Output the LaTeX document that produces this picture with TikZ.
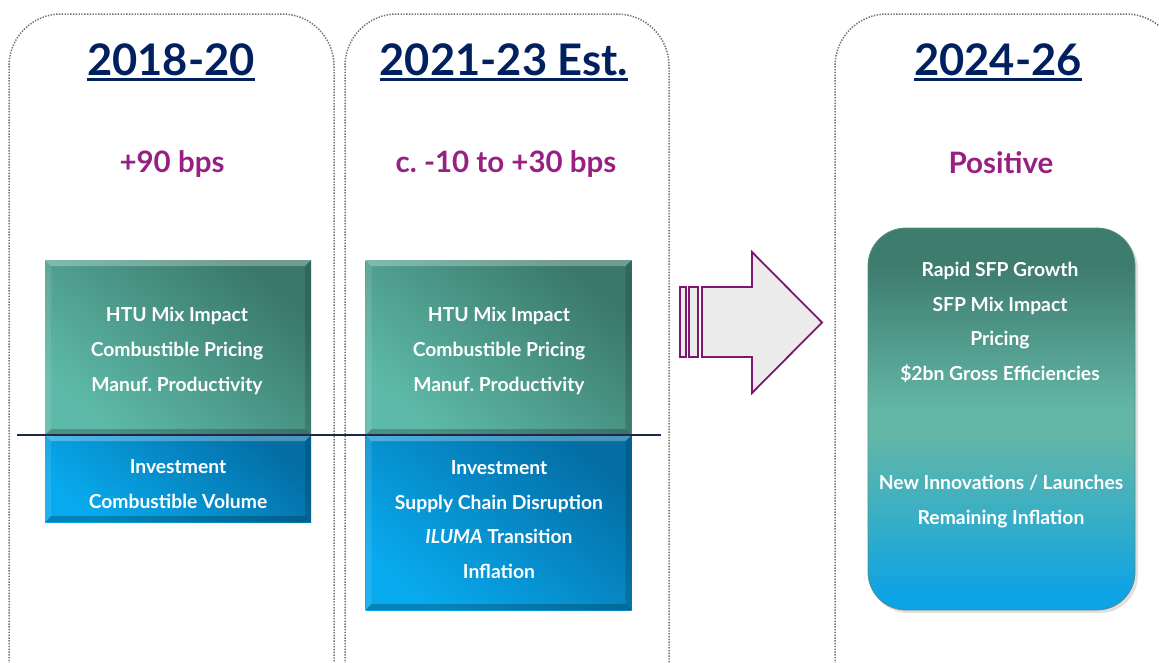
\documentclass[tikz,border=0pt]{standalone}
\usepackage{fontspec}
\setmainfont{Lato}
\usetikzlibrary{calc}
\frenchspacing

\definecolor{navy}{RGB}{0,32,96}
\definecolor{plum}{RGB}{152,32,130}
\definecolor{plumline}{RGB}{128,22,112}
\definecolor{arrowgray}{RGB}{235,235,235}
\definecolor{panelgray}{RGB}{115,115,115}
\definecolor{tealdark}{RGB}{58,120,106}
\definecolor{teallight}{RGB}{94,186,168}
\definecolor{tealtop}{RGB}{62,124,110}
\definecolor{tealmid}{RGB}{99,183,167}
\definecolor{aqua}{RGB}{56,174,198}
\definecolor{bluedark}{RGB}{4,110,165}
\definecolor{bluelight}{RGB}{8,170,238}
\definecolor{skyblue}{RGB}{14,162,230}
\definecolor{rule}{RGB}{30,40,75}

% vertical colour run of the outlook box (box spans 25bp..75bp)
\pgfdeclareverticalshading{outlook}{100bp}{%
  color(0bp)=(skyblue); color(27bp)=(skyblue); color(37bp)=(aqua);
  color(48bp)=(tealmid); color(51bp)=(tealmid); color(70bp)=(tealtop);
  color(100bp)=(tealtop)}

% edge highlights and shadows that give a box a raised look
\newcommand\bevel[2]{%
  \fill[white,opacity=.28] (#1.north west) -- (#1.north east) -- ($(#1.north east)+(-#2,#2)$) -- ($(#1.north west)+(#2,#2)$) -- cycle;
  \fill[white,opacity=.10] (#1.north west) -- ($(#1.north west)+(#2,#2)$) -- ($(#1.south west)+(#2,-#2)$) -- (#1.south west) -- cycle;
  \fill[black,opacity=.14] (#1.north east) -- ($(#1.north east)+(-#2,#2)$) -- ($(#1.south east)+(-#2,-#2)$) -- (#1.south east) -- cycle;
  \fill[black,opacity=.22] (#1.south west) -- ($(#1.south west)+(#2,-#2)$) -- ($(#1.south east)+(-#2,-#2)$) -- (#1.south east) -- cycle;
}

\tikzset{
  panel/.style={draw=panelgray, line width=1.5pt, dash pattern=on 1.4pt off 1.4pt, rounded corners=52pt},
  boxbase/.style={rectangle, inner sep=0pt, outer sep=0pt, minimum width=266pt},
  greenbox/.style={boxbase, top color=tealdark, bottom color=teallight, shading angle=-40},
  bluebox/.style={boxbase, top color=bluedark, bottom color=bluelight, shading angle=-40},
  headline/.style={text=navy, font=\bfseries\fontsize{43.5}{50}\selectfont, anchor=base, inner sep=0pt},
  subline/.style={text=plum, font=\bfseries\fontsize{29.5}{32}\selectfont, anchor=base, inner sep=0pt},
  body/.style={text=white, align=center, font=\bfseries\fontsize{19.3}{34.6}\selectfont, inner sep=0pt},
  arrowline/.style={draw=plumline, line width=1.8pt, fill=arrowgray, line join=miter},
}

\begin{document}
\begin{tikzpicture}[x=1pt, y=-1pt]
\useasboundingbox (0,0) rectangle (1159,662);
\clip (0,0) rectangle (1159,662);

% dotted period panels
\draw[panel] (9,720) -- (9,14) -- (334,14) -- (334,720);
\draw[panel] (345,720) -- (345,14) -- (669,14) -- (669,720);
\draw[panel] (835,720) -- (835,14) -- (1178,14) -- (1178,720);

% headings
\node[headline] (h1) at (171,75) {2018-20};
\node[headline] (h2) at (504,75) {2021-23 Est.};
\node[headline] (h3) at (998,75) {2024-26};
\foreach \h in {h1,h2,h3}
  \draw[navy, line width=3pt] ($(\h.base west)+(0,4)$) -- ($(\h.base east)+(0,4)$);

% margin impact
\node[subline] (s1) at (172,172) {+90 bps};
\node[subline] (s2) at (506,172) {c. -10 to +30 bps};
\node[subline] (s3) at (1001,173) {Positive};

% 2018-20 drivers
\node[greenbox, minimum height=175pt] (g1) at (178,347.5) {};
\node[bluebox, minimum height=87pt] (b1) at (178,478.5) {};
\bevel{g1}{6}
\bevel{b1}{6}

% 2021-23 drivers
\node[greenbox, minimum height=175pt] (g2) at (498.5,347.5) {};
\node[bluebox, minimum height=175pt] (b2) at (498.5,522.5) {};
\bevel{g2}{6}
\bevel{b2}{6}

% zero line
\coordinate (z0) at (17,435);
\coordinate (z1) at (661,435);
\draw[rule, line width=1.1pt] (z0) -- (z1);

\node[body] (t1) at (177,351) {HTU Mix Impact\\Combustible Pricing\\Manuf. Productivity};
\node[body] (u1) at (178,484) {Investment\\Combustible Volume};
\node[body] (t2) at (499,351) {HTU Mix Impact\\Combustible Pricing\\Manuf. Productivity};
\node[body] (u2) at (499,519.5) {Investment\\Supply Chain Disruption\\\textit{ILUMA} Transition\\Inflation};

% forward arrow
\draw[arrowline] (680,287) rectangle (686,357);
\draw[arrowline] (689,287) rectangle (698,357);
\draw[arrowline] (702,287) -- (752,287) -- (752,252) -- (822,322.5) -- (752,393) -- (752,357) -- (702,357) -- cycle;

% 2024-26 outlook
\fill[black, opacity=.12, rounded corners=38pt] (870,231) rectangle (1138,613);
\node[rectangle, rounded corners=38pt, minimum width=267pt, minimum height=382pt, inner sep=0pt,
      draw=tealdark!85, line width=0.8pt, shading=outlook] (r3) at (1001.5,419) {};
\node[body] (p3) at (1000,322.5) {Rapid SFP Growth\\SFP Mix Impact\\Pricing\\\$2bn Gross Efficiencies};
\node[body] (n3) at (1001,501.5) {New Innovations / Launches\\Remaining Inflation};
\end{tikzpicture}
\end{document}
